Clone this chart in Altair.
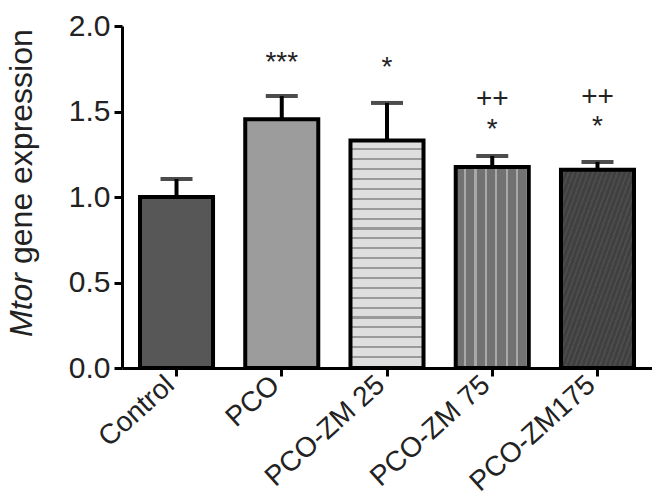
import altair as alt
import pandas as pd

# ---- data ----
categories = ["Control", "PCO", "PCO-ZM 25", "PCO-ZM 75", "PCO-ZM175"]
means = [1.00, 1.455, 1.33, 1.175, 1.16]
errors = [0.105, 0.135, 0.22, 0.065, 0.045]

ann_cat = ["PCO", "PCO-ZM 25", "PCO-ZM 75", "PCO-ZM 75", "PCO-ZM175", "PCO-ZM175"]
ann_text = ["***", "*", "++", "*", "++", "*"]
ann_level = [1.82, 1.79, 1.573, 1.427, 1.585, 1.444]

y_ticks = [0.0, 0.5, 1.0, 1.5, 2.0]

df = pd.DataFrame({"cat": categories, "mean": means, "err": errors})
df["upper"] = df["mean"] + df["err"]
ann = pd.DataFrame({"cat": ann_cat, "txt": ann_text, "lvl": ann_level})

FONT = "Liberation Sans"


def stripes(base, line, n, frac, x2, y2):
    stops = []
    for i in range(n):
        o0 = round(i / n, 4)
        o1 = round((i + 1 - frac) / n, 4)
        o2 = round((i + 1) / n, 4)
        stops += [{"offset": o0, "color": base}, {"offset": o1, "color": base},
                  {"offset": o1, "color": line}, {"offset": o2, "color": line}]
    return {"gradient": "linear", "x1": 0, "y1": 0, "x2": x2, "y2": y2, "stops": stops}


fills = {
    "Control": "#575757",
    "PCO": "#9c9c9c",
    "PCO-ZM 25": stripes("#dedede", "#9a9a9a", 23, 0.22, 0, 1),
    "PCO-ZM 75": stripes("#727272", "#a8a8a8", 7, 0.22, 1, 0),
    "PCO-ZM175": stripes("#404040", "#4c4c4c", 30, 0.4, 1, 1),
}

x_enc = alt.X(
    "cat:N",
    sort=categories,
    scale=alt.Scale(domain=categories, paddingInner=0.306, paddingOuter=0.171),
    axis=alt.Axis(title=None, labelAngle=-42, labelFontSize=28, labelPadding=5,
                  labelOffset=-6, labelAlign="right", labelBaseline="middle"),
)
y_scale = alt.Scale(domain=[0, 2], nice=False)
y_axis = alt.Axis(title=None, values=y_ticks, format=".1f", labelFontSize=30,
                  labelPadding=4, grid=False)

layers = []
for c in categories:
    layers.append(
        alt.Chart(df)
        .transform_filter(alt.datum.cat == c)
        .mark_bar(fill=fills[c], stroke="black", strokeWidth=4)
        .encode(x=x_enc, y=alt.Y("mean:Q", scale=y_scale, axis=y_axis))
    )

err_rule = alt.Chart(df).mark_rule(color="black", strokeWidth=4).encode(
    x=x_enc, y=alt.Y("mean:Q", scale=y_scale, axis=y_axis), y2="upper:Q"
)
err_cap = alt.Chart(df).mark_tick(color="black", thickness=4, size=32).encode(
    x=x_enc, y=alt.Y("upper:Q", scale=y_scale, axis=y_axis)
)

stars = alt.Chart(ann).transform_filter("indexof(datum.txt, '*') >= 0").mark_text(
    font=FONT, fontSize=28, baseline="middle", dy=6, color="#222222"
).encode(x=x_enc, y=alt.Y("lvl:Q", scale=y_scale, axis=y_axis), text="txt:N")

pluses = alt.Chart(ann).transform_filter("indexof(datum.txt, '+') >= 0").mark_text(
    font=FONT, fontSize=28, baseline="middle", color="#222222"
).encode(x=x_enc, y=alt.Y("lvl:Q", scale=y_scale, axis=y_axis), text="txt:N")

title_it = alt.Chart(pd.DataFrame({"t": ["Mtor"]})).mark_text(
    font=FONT, fontSize=32, fontStyle="italic", angle=270, align="left",
    baseline="alphabetic", color="#222222"
).encode(x=alt.value(-90), y=alt.value(311), text="t:N")

title_rest = alt.Chart(pd.DataFrame({"t": ["gene expression"]})).mark_text(
    font=FONT, fontSize=32, angle=270, align="left",
    baseline="alphabetic", color="#222222"
).encode(x=alt.value(-90), y=alt.value(238), text="t:N")

chart = (
    alt.layer(*layers, err_rule, err_cap, stars, pluses, title_it, title_rest)
    .properties(
        width=530,
        height=342,
        autosize=alt.AutoSizeParams(type="none"),
        padding={"left": 114, "top": 18, "right": 0, "bottom": 130},
    )
    .configure_view(stroke=None)
    .configure_axis(
        domainColor="black", domainWidth=3, tickColor="black", tickWidth=3,
        tickSize=8, labelFont=FONT, labelColor="#222222",
    )
)

chart.save("out.html", embed_options={"renderer": "svg", "actions": False})
